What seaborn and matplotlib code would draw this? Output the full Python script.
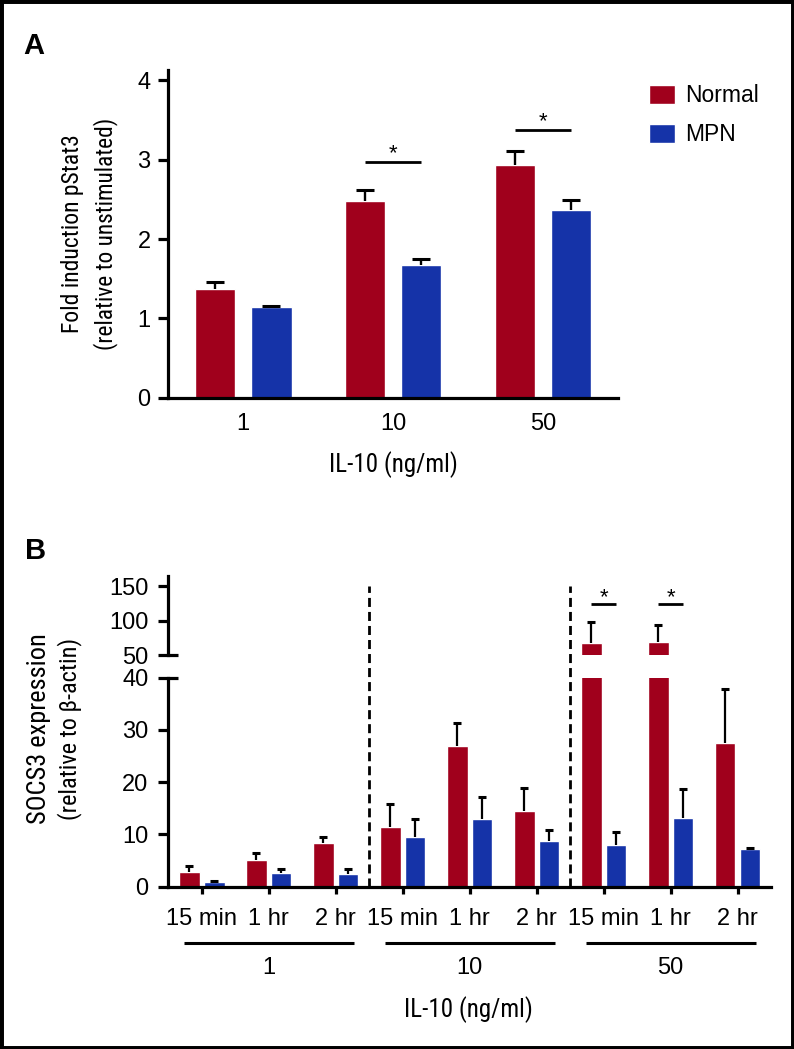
import numpy as np
import pandas as pd
import matplotlib
matplotlib.use("Agg")
import matplotlib.pyplot as plt
import matplotlib.transforms as mtransforms
from matplotlib.patches import Rectangle
import seaborn as sns

# ---- data ----
groups = ["Normal", "MPN"]
doses = ["1", "10", "50"]

# panel A: fold induction of pStat3
a_normal = [1.37, 2.48, 2.93]
a_normal_err = [0.085, 0.135, 0.18]
a_mpn = [1.14, 1.67, 2.36]
a_mpn_err = [0.02, 0.083, 0.135]
a_sig_doses = ["10", "50"]
a_sig_y = [2.97, 3.38]

# panel B: SOCS3 expression, 3 doses x 3 time points
times = ["15 min", "1 hr", "2 hr"]
b_normal = [2.9, 5.2, 8.3, 11.4, 26.9, 14.5, 67.0, 68.4, 27.5]
b_normal_err = [1.1, 1.2, 1.2, 4.45, 4.35, 4.4, 30.8, 24.6, 10.4]
b_mpn = [0.96, 2.56, 2.49, 9.44, 13.0, 8.67, 7.9, 13.1, 7.15]
b_mpn_err = [0.1, 0.76, 0.96, 3.5, 4.1, 2.13, 2.6, 5.6, 0.25]
b_sig_idx = [6, 7]
b_sig_y = 123.5

RED = "#A0001C"
BLUE = "#1533A8"

sns.set_style("ticks")
plt.rcParams["font.family"] = ["Liberation Sans", "DejaVu Sans"]
plt.rcParams["axes.edgecolor"] = "black"
plt.rcParams["xtick.color"] = "black"
plt.rcParams["ytick.color"] = "black"
plt.rcParams["text.color"] = "black"
NARROW = ["Roboto Condensed", "Archivo Narrow", "DejaVu Sans"]

W, H = 794, 1049
fig = plt.figure(figsize=(W / 100, H / 100), dpi=100)


def rect(left, top, right, bottom):
    return [left / W, 1 - bottom / H, (right - left) / W, (bottom - top) / H]


axA = fig.add_axes(rect(168.3, 70, 618, 397.7))
axBu = fig.add_axes(rect(168.3, 576, 771, 655))
axB = fig.add_axes(rect(168.3, 677.7, 771, 886.7))

LW = 2.3


def style_axis(ax):
    for s in ["top", "right"]:
        ax.spines[s].set_visible(False)
    for s in ["left", "bottom"]:
        ax.spines[s].set_linewidth(LW)
    ax.set_xlabel("")
    ax.set_ylabel("")


def add_errbars(ax, errs, capsize, lw):
    for cont, err in zip(ax.containers, errs):
        for bar, e in zip(cont, err):
            x = bar.get_x() + bar.get_width() / 2
            h = bar.get_height()
            _, caps, _ = ax.errorbar(x, h, yerr=[[0], [e]], fmt="none", ecolor="black",
                                     elinewidth=lw, capsize=capsize, capthick=2.2, zorder=3)
            if len(caps) == 2:
                caps[0].set_visible(False)


# ---- panel A ----
dfA = pd.DataFrame({
    "dose": doses * 2,
    "group": ["Normal"] * 3 + ["MPN"] * 3,
    "value": a_normal + a_mpn,
})
sns.barplot(data=dfA, x="dose", y="value", hue="group", order=doses, hue_order=groups,
            palette=[RED, BLUE], saturation=1, width=0.75, gap=0.28, errorbar=None,
            ax=axA, zorder=2)
add_errbars(axA, [a_normal_err, a_mpn_err], capsize=6.5, lw=1.7)
style_axis(axA)
axA.set_xlim(-0.5, 2.5)
axA.set_ylim(0, 4.13)
axA.set_yticks([0, 1, 2, 3, 4])
axA.tick_params(axis="y", length=7.2, width=LW, pad=5.5, labelsize=17)
axA.tick_params(axis="x", length=0, pad=11, labelsize=17)

for d, y in zip(a_sig_doses, a_sig_y):
    i = doses.index(d)
    xs = [b.get_x() + b.get_width() / 2 for b in (axA.containers[0][i], axA.containers[1][i])]
    axA.plot(xs, [y, y], color="black", lw=2, solid_capstyle="butt")
    axA.text(np.mean(xs), y + 0.03, "*", ha="center", va="baseline", fontsize=16)

sns.move_legend(axA, "upper left", bbox_to_anchor=(649 / W, 1 - 84 / H),
                bbox_transform=fig.transFigure, title=None, frameon=False,
                handlelength=1.12, handleheight=0.9, handletextpad=0.45,
                labelspacing=0.7, borderpad=0, borderaxespad=0, fontsize=16.5)

# ---- panel B ----
keys = [f"{d}|{t}" for d in doses for t in times]
dfB = pd.DataFrame({
    "key": keys * 2,
    "group": ["Normal"] * 9 + ["MPN"] * 9,
    "value": b_normal + b_mpn,
})
for ax in (axB, axBu):
    sns.barplot(data=dfB, x="key", y="value", hue="group", order=keys, hue_order=groups,
                palette=[RED, BLUE], saturation=1, width=0.74, gap=0.165, errorbar=None,
                legend=False, ax=ax, zorder=2)
    add_errbars(ax, [b_normal_err, b_mpn_err], capsize=2.8, lw=1.6)
    style_axis(ax)
    ax.set_xlim(-0.5, 8.5)

axB.set_ylim(0, 40)
axB.set_yticks([0, 10, 20, 30, 40])
axB.set_xticks(range(9))
axB.set_xticklabels(times * 3)
axB.tick_params(axis="y", length=7.2, width=LW, pad=7, labelsize=17)
axB.tick_params(axis="x", length=5, width=LW, pad=10, labelsize=17)

axBu.set_ylim(50, 164.5)
axBu.set_yticks([50, 100, 150])
axBu.set_xticks([])
axBu.spines["bottom"].set_visible(False)
axBu.tick_params(axis="y", length=7.2, width=LW, pad=7, labelsize=17)

# break marks on the axis
axB.plot([0, 0.0166], [1, 1], transform=axB.transAxes, color="black", lw=LW,
         clip_on=False, solid_capstyle="butt")
axBu.plot([0, 0.0166], [0, 0], transform=axBu.transAxes, color="black", lw=LW,
          clip_on=False, solid_capstyle="butt")

for i in b_sig_idx:
    xs = [axBu.containers[0][i].get_x() + axBu.containers[0][i].get_width() / 2,
          axBu.containers[1][i].get_x() + axBu.containers[1][i].get_width() / 2]
    axBu.plot(xs, [b_sig_y, b_sig_y], color="black", lw=2, solid_capstyle="butt")
    axBu.text(np.mean(xs), b_sig_y + 2, "*", ha="center", va="baseline", fontsize=16)

# dashed separators between dose groups
for xv in [2.5, 5.5]:
    axB.plot([xv, xv], [0, 57.5], color="black", lw=2, linestyle=(0, (3.25, 1.8)),
             clip_on=False, zorder=1)

trans = mtransforms.blended_transform_factory(axB.transData, axB.transAxes)
pos = np.arange(9).reshape(3, 3)
for d, row in zip(doses, pos):
    c = row.mean()
    axB.plot([c - 1.27, c + 1.27], [-0.268, -0.268], transform=trans, color="black",
             lw=2.2, clip_on=False, solid_capstyle="butt")
    axB.text(c, -0.389, d, transform=trans, ha="center", va="center", fontsize=17)

# ---- text ----
fig.text(23 / W, 1 - 46.5 / H, "A", fontsize=21, fontweight="bold", ha="left", va="center")
fig.text(25 / W, 1 - 551 / H, "B", fontsize=21, fontweight="bold", ha="left", va="center")

fig.text(73 / W, 1 - 234 / H, "Fold induction pStat3", rotation=90, ha="center",
         va="center", family=NARROW, fontsize=17)
fig.text(106 / W, 1 - 234 / H, "(relative to unstimulated)", rotation=90, ha="center",
         va="center", family=NARROW, fontsize=16.8)
fig.text(393 / W, 1 - 465 / H, "IL-10 (ng/ml)", ha="center", va="center",
         family=NARROW, fontsize=18)

fig.text(39 / W, 1 - 729 / H, "SOCS3 expression", rotation=90, ha="center",
         va="center", family=NARROW, fontsize=19)
fig.text(70 / W, 1 - 729 / H, "(relative to \u03b2-actin)", rotation=90, ha="center",
         va="center", family=NARROW, fontsize=17.5)
fig.text(468 / W, 1 - 1010 / H, "IL-10 (ng/ml)", ha="center", va="center",
         family=NARROW, fontsize=18)

fig.add_artist(Rectangle((0, 0), 1, 1, transform=fig.transFigure, fill=False,
                         edgecolor="black", lw=5))

fig.savefig("out.png", dpi=100)
